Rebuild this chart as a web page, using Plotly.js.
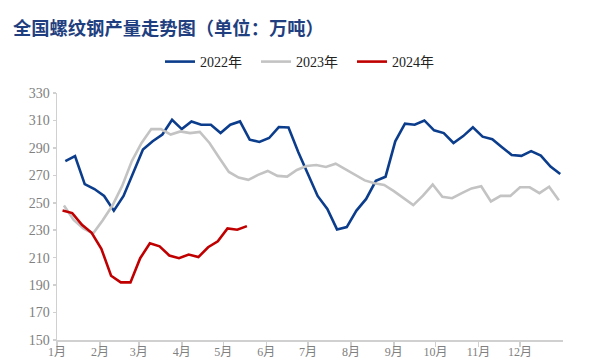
<!DOCTYPE html>
<html>
<head>
<meta charset="utf-8">
<script src="https://cdn.plot.ly/plotly-3.0.1.min.js"></script>
<style>html,body{margin:0;padding:0;background:#fff;}#chart{width:600px;height:360px;}</style>
</head>
<body>
<div id="chart"></div>
<script>
// Weekly rebar output (10k tonnes), plotted on a shared Jan–Dec axis
const seriesNames = ['2022年', '2023年', '2024年'];
const firstWeek = ['2022-01-07', '2022-01-06', '2022-01-05']; // first Friday of each year, placed on common axis
const values2022 = [280.4, 284, 263.6, 260, 255, 244.3, 255, 272, 288.8, 294.8, 299.7, 310.5, 303.7,
  309.3, 306.9, 306.9, 300.8, 306.9, 309.3, 296, 294.3, 297.2, 305.2, 304.9, 287, 271,
  255, 245.5, 230.6, 232.3, 244.3, 252.8, 266, 269, 294.8, 307.6, 306.9, 310, 302.8,
  300.8, 293.6, 298.6, 305, 298.2, 296.3, 290.5, 284.8, 284.2, 287.6, 284.4, 276.4, 271];
const values2023 = [248, 237.5, 231.3, 227.6, 237.3, 248, 262.3, 280.4, 293.6, 303.7, 303.7, 299.7, 302,
  300.8, 301.6, 293.6, 282.8, 272.5, 268.4, 266.7, 270.3, 273.2, 269.6, 269.1, 273.9, 276.8,
  277.5, 276.1, 278.5, 274.4, 270.5, 266.3, 264.2, 263, 258.5, 253.5, 248.3, 255.2, 263.3,
  254.3, 253.3, 257, 260.5, 262, 251, 255, 255, 261.3, 261.3, 257, 261.7, 251.8];
const values2024 = [244.3, 242.5, 233.9, 228.1, 216.5, 196.8, 192, 192, 209.6, 220.5, 218.3, 211.6,
  209.6, 212.3, 210.4, 217.6, 221.9, 231.3, 230.4, 233];
const seriesColors = ['#0b3d8c', '#c3c3c3', '#c00000'];
const monthTicks = ['2022-01-01','2022-02-01','2022-03-01','2022-04-01','2022-05-01','2022-06-01',
  '2022-07-01','2022-08-01','2022-09-01','2022-10-01','2022-11-01','2022-12-01'];
const monthLabels = ['1月','2月','3月','4月','5月','6月','7月','8月','9月','10月','11月','12月'];

function weekly(start, n) {
  const out = [];
  const d0 = new Date(start + 'T00:00:00Z');
  for (let i = 0; i < n; i++) {
    const d = new Date(d0.getTime() + i * 7 * 86400000);
    out.push(d.toISOString().slice(0, 10));
  }
  return out;
}

const allValues = [values2022, values2023, values2024];
const traces = allValues.map((v, i) => ({
  type: 'scatter', mode: 'lines',
  name: seriesNames[i],
  x: weekly(firstWeek[i], v.length),
  y: v,
  line: {color: seriesColors[i], width: 2.6},
  hoverinfo: 'skip'
}));

const layout = {
  width: 600, height: 360,
  margin: {l: 57, r: 37, t: 93, b: 20},
  paper_bgcolor: '#fff', plot_bgcolor: '#fff',
  showlegend: true,
  title: {
    text: '全国螺纹钢产量走势图（单位：万吨）',
    font: {family: '"Noto Sans CJK SC", sans-serif', size: 18.3, color: '#1f3f80', weight: 'bold'},
    xref: 'container', yref: 'container', x: 13/600, xanchor: 'left', y: 1 - 29/360, yanchor: 'middle'
  },
  legend: {
    orientation: 'h', xref: 'container', yref: 'container',
    x: 160/600, xanchor: 'left', y: 1 - 62/360, yanchor: 'middle',
    font: {family: '"Liberation Serif", "Noto Sans CJK SC", serif', size: 14, color: '#222'},
    itemwidth: 30, entrywidth: 51, entrywidthmode: 'pixels',
    bgcolor: 'rgba(0,0,0,0)'
  },
  xaxis: {
    type: 'date', range: ['2022-01-01', '2023-01-01'],
    tickmode: 'array', tickvals: monthTicks, ticktext: monthLabels,
    showgrid: false, zeroline: false,
    showline: true, linecolor: '#d0d0d0', linewidth: 1.5,
    ticks: 'outside', ticklen: 5, tickcolor: '#d0d0d0', tickwidth: 1.5,
    ticklabelstandoff: -5,
    tickfont: {family: '"Liberation Serif", "Noto Sans CJK SC", serif', size: 12, color: '#808080'},
    fixedrange: true
  },
  yaxis: {
    range: [150, 330], tickvals: [150,170,190,210,230,250,270,290,310,330],
    showgrid: false, zeroline: false,
    showline: true, linecolor: '#d0d0d0', linewidth: 1.5,
    ticks: 'outside', ticklen: 3, tickcolor: '#d0d0d0', tickwidth: 1.5,
    tickfont: {family: '"Liberation Serif", serif', size: 14, color: '#808080'},
    fixedrange: true
  }
};

Plotly.newPlot('chart', traces, layout, {displayModeBar: false, staticPlot: true});
</script>
</body>
</html>
